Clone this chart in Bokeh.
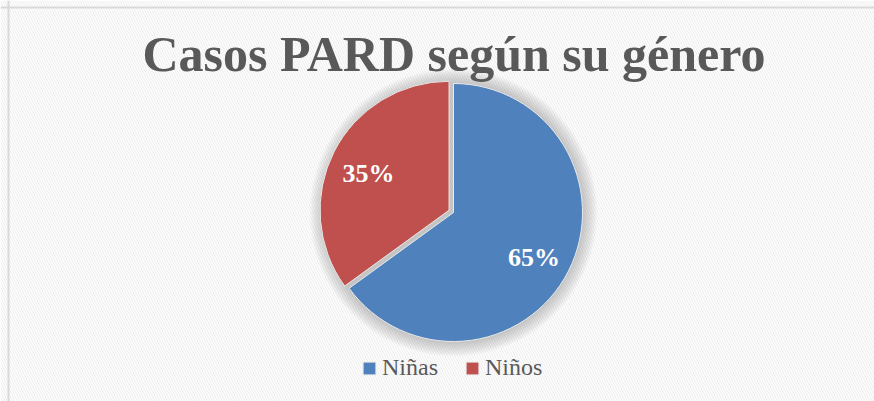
import numpy as np
from bokeh.plotting import figure
from bokeh.models import Range1d, Label, Legend, LegendItem, Span, BoxAnnotation
from bokeh.core.properties import value
from bokeh.embed import file_html
from bokeh.resources import INLINE

# ---- data ----
title_text = "Casos PARD según su género"
categories = ["Niñas", "Niños"]
values = [65, 35]
colors = ["#4F81BD", "#C0504D"]

# ---- layout (page pixel coordinates, y measured from the bottom) ----
W, H = 874, 401
cx, cy = 453, H - 212
R = 129
explode = [0, 5]
FONT = "Liberation Serif"

p = figure(width=W, height=H, output_backend="svg", toolbar_location=None,
           x_range=Range1d(0, W), y_range=Range1d(0, H), min_border=0)
p.axis.visible = False
p.grid.visible = False
p.outline_line_color = None
p.background_fill_color = "white"
p.border_fill_color = "white"

# textured background
p.add_layout(BoxAnnotation(fill_color="white", fill_alpha=1, line_color=None,
                           hatch_pattern="left_diagonal_line", hatch_color="#e6e6e6",
                           hatch_scale=5, hatch_weight=1, hatch_alpha=0.8, level="underlay"))
# chart border (top/left visible)
p.add_layout(Span(location=8, dimension="height", line_color="#d9d9d9", line_width=2))
p.add_layout(Span(location=H - 7, dimension="width", line_color="#d9d9d9", line_width=2))

# soft shadow around pie
for k in range(1, 16):
    p.circle(x=[cx], y=[cy], radius=R + k, fill_color="#808080", fill_alpha=0.03, line_color=None)

vals = np.array(values, dtype=float)
frac = vals / vals.sum()
cum = np.concatenate([[0], np.cumsum(frac)])
end_ang = np.pi / 2 - 2 * np.pi * cum[:-1]
start_ang = np.pi / 2 - 2 * np.pi * cum[1:]
mid = (start_ang + end_ang) / 2

items = []
lab_x, lab_y, lab_t = [], [], []
for i, cat in enumerate(categories):
    ox = cx + explode[i] * np.cos(mid[i])
    oy = cy + explode[i] * np.sin(mid[i])
    r = p.wedge(x=[ox], y=[oy], radius=R, start_angle=[start_ang[i]], end_angle=[end_ang[i]],
                fill_color=colors[i], line_color="#e8e8e8", line_width=1)
    items.append(LegendItem(label=cat, renderers=[r]))
    lab_x.append(ox + 0.70 * R * np.cos(mid[i]))
    lab_y.append(oy + 0.70 * R * np.sin(mid[i]))
    lab_t.append(f"{values[i]}%")

p.text(x=lab_x, y=lab_y, text=lab_t, text_align="center", text_baseline="middle", y_offset=4,
       text_color="white", text_font=value(FONT), text_font_style="bold", text_font_size="26px")

p.add_layout(Label(x=453.5, y=H - 53, text=title_text, text_align="center", text_baseline="alphabetic",
                   text_font=FONT, text_font_style="bold", text_font_size="50px", text_color="#595959"))

legend = Legend(items=items, orientation="horizontal", location=(361, 20), margin=0, padding=0,
                spacing=26, label_standoff=5, glyph_width=16, glyph_height=16,
                label_text_font=FONT, label_text_font_size="24px", label_text_color="#595959",
                background_fill_alpha=0, border_line_color=None)
p.add_layout(legend)

open("out.html", "w").write(file_html(p, INLINE))
